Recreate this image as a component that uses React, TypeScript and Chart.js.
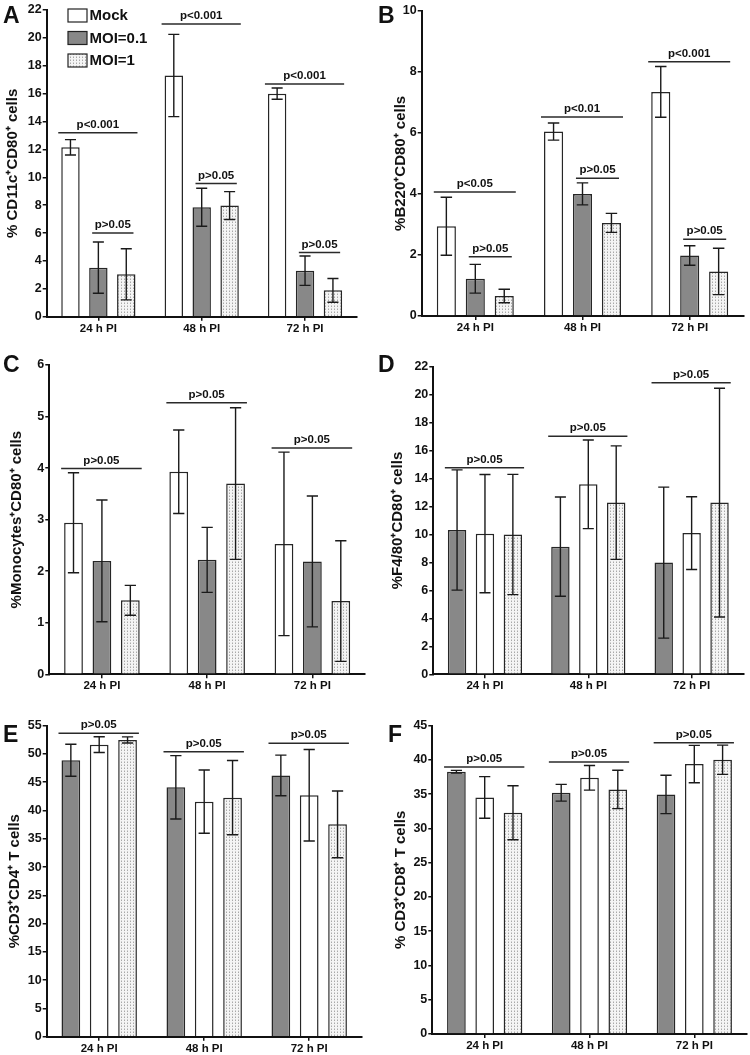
import React, { useRef, useEffect } from 'react';
import { Chart, registerables, type ChartConfiguration, type Plugin } from 'chart.js';

Chart.register(...registerables);

const FONT = "'Liberation Sans', Arial, Helvetica, sans-serif";
const INK = '#111111';

const categories = ['24 h PI', '48 h PI', '72 h PI'];
const seriesABC = ['Mock', 'MOI=0.1', 'MOI=1'];
const seriesDEF = ['MOI=0.1', 'Mock', 'MOI=1'];

// A : % CD11c+CD80+ cells
const aMock = [12.15, 17.3, 16.0];
const aMoi01 = [3.52, 7.85, 3.3];
const aMoi1 = [3.04, 7.97, 1.89];
const aMockErr = [0.55, 2.95, 0.4];
const aMoi01Err = [1.84, 1.36, 1.05];
const aMoi1Err = [1.83, 1.0, 0.85];

// B : % B220+CD80+ cells
const bMock = [2.94, 6.04, 7.34];
const bMoi01 = [1.22, 4.0, 1.98];
const bMoi1 = [0.655, 3.05, 1.46];
const bMockErr = [0.95, 0.28, 0.83];
const bMoi01Err = [0.47, 0.36, 0.32];
const bMoi1Err = [0.22, 0.31, 0.76];

// C : % Monocytes+CD80+ cells
const cMock = [2.94, 3.93, 2.53];
const cMoi01 = [2.2, 2.22, 2.19];
const cMoi1 = [1.435, 3.7, 1.42];
const cMockErr = [0.97, 0.81, 1.78];
const cMoi01Err = [1.18, 0.63, 1.27];
const cMoi1Err = [0.29, 1.47, 1.17];

// D : % F4/80+CD80+ cells (grey, white, dotted)
const dGrey = [10.32, 9.13, 7.99];
const dWhite = [10.06, 13.59, 10.1];
const dDots = [10.0, 12.28, 12.28];
const dGreyErr = [4.3, 3.55, 5.4];
const dWhiteErr = [4.23, 3.17, 2.6];
const dDotsErr = [4.3, 4.06, 8.18];

// E : % CD3+CD4+ T cells
const eGrey = [48.88, 44.1, 46.2];
const eWhite = [51.65, 41.57, 42.7];
const eDots = [52.48, 42.28, 37.55];
const eGreyErr = [2.83, 5.6, 3.6];
const eWhiteErr = [1.4, 5.6, 8.1];
const eDotsErr = [0.55, 6.56, 5.9];

// F : % CD3+CD8+ T cells
const fGrey = [38.28, 35.21, 34.97];
const fWhite = [34.53, 37.4, 39.4];
const fDots = [32.3, 35.7, 40.03];
const fGreyErr = [0.2, 1.22, 2.8];
const fWhiteErr = [3.04, 1.8, 2.73];
const fDotsErr = [3.94, 2.8, 2.14];

type Sig = { cat: number; from: number; to: number; y: number; text: string };

// significance brackets : category, first/last bar, level, label
const aSigs: Sig[] = [
  { cat: 0, from: 0, to: 2, y: 13.2, text: 'p<0.001' },
  { cat: 0, from: 1, to: 2, y: 6.0, text: 'p>0.05' },
  { cat: 1, from: 0, to: 2, y: 21.0, text: 'p<0.001' },
  { cat: 1, from: 1, to: 2, y: 9.55, text: 'p>0.05' },
  { cat: 2, from: 0, to: 2, y: 16.7, text: 'p<0.001' },
  { cat: 2, from: 1, to: 2, y: 4.6, text: 'p>0.05' },
];
const bSigs: Sig[] = [
  { cat: 0, from: 0, to: 2, y: 4.06, text: 'p<0.05' },
  { cat: 0, from: 1, to: 2, y: 1.94, text: 'p>0.05' },
  { cat: 1, from: 0, to: 2, y: 6.52, text: 'p<0.01' },
  { cat: 1, from: 1, to: 2, y: 4.51, text: 'p>0.05' },
  { cat: 2, from: 0, to: 2, y: 8.33, text: 'p<0.001' },
  { cat: 2, from: 1, to: 2, y: 2.51, text: 'p>0.05' },
];
const cSigs: Sig[] = [
  { cat: 0, from: 0, to: 2, y: 3.99, text: 'p>0.05' },
  { cat: 1, from: 0, to: 2, y: 5.27, text: 'p>0.05' },
  { cat: 2, from: 0, to: 2, y: 4.39, text: 'p>0.05' },
];
const dSigs: Sig[] = [
  { cat: 0, from: 0, to: 2, y: 14.78, text: 'p>0.05' },
  { cat: 1, from: 0, to: 2, y: 17.02, text: 'p>0.05' },
  { cat: 2, from: 0, to: 2, y: 20.86, text: 'p>0.05' },
];
const eSigs: Sig[] = [
  { cat: 0, from: 0, to: 2, y: 53.66, text: 'p>0.05' },
  { cat: 1, from: 0, to: 2, y: 50.4, text: 'p>0.05' },
  { cat: 2, from: 0, to: 2, y: 51.9, text: 'p>0.05' },
];
const fSigs: Sig[] = [
  { cat: 0, from: 0, to: 2, y: 38.96, text: 'p>0.05' },
  { cat: 1, from: 0, to: 2, y: 39.7, text: 'p>0.05' },
  { cat: 2, from: 0, to: 2, y: 42.5, text: 'p>0.05' },
];

type Fill = 'white' | 'grey' | 'dots';

interface PanelSpec {
  letter: string;
  left: number;
  top: number;
  height: number;
  yWidth: number;
  padTop: number;
  padRight: number;
  xHeight: number;
  titlePad: number;
  yMax: number;
  yStep: number;
  yTitle: string;
  series: string[];
  fills: Fill[];
  values: number[][];
  errors: number[][];
  sigs: Sig[];
  legend?: boolean;
}

const panels: PanelSpec[] = [
  {
    letter: 'A', left: 0, top: 0, height: 345, yWidth: 46.7, padTop: 10, padRight: 18.3, xHeight: 28.3, titlePad: 4,
    yMax: 22, yStep: 2, yTitle: '% CD11c\u207ACD80\u207A cells', series: seriesABC, fills: ['white', 'grey', 'dots'],
    values: [aMock, aMoi01, aMoi1], errors: [aMockErr, aMoi01Err, aMoi1Err], sigs: aSigs, legend: true,
  },
  {
    letter: 'B', left: 375, top: 0, height: 345, yWidth: 46.7, padTop: 10.7, padRight: 6.7, xHeight: 29, titlePad: 17,
    yMax: 10, yStep: 2, yTitle: '%B220\u207ACD80\u207A cells', series: seriesABC, fills: ['white', 'grey', 'dots'],
    values: [bMock, bMoi01, bMoi1], errors: [bMockErr, bMoi01Err, bMoi1Err], sigs: bSigs,
  },
  {
    letter: 'C', left: 0, top: 340, height: 360, yWidth: 49.3, padTop: 25, padRight: 10, xHeight: 25.7, titlePad: 8,
    yMax: 6, yStep: 1, yTitle: '%Monocytes\u207ACD80\u207A cells', series: seriesABC, fills: ['white', 'grey', 'dots'],
    values: [cMock, cMoi01, cMoi1], errors: [cMockErr, cMoi01Err, cMoi1Err], sigs: cSigs,
  },
  {
    letter: 'D', left: 375, top: 340, height: 360, yWidth: 58.3, padTop: 26.7, padRight: 6.7, xHeight: 25.7, titlePad: 14,
    yMax: 22, yStep: 2, yTitle: '%F4/80\u207ACD80\u207A cells', series: seriesDEF, fills: ['grey', 'white', 'dots'],
    values: [dGrey, dWhite, dDots], errors: [dGreyErr, dWhiteErr, dDotsErr], sigs: dSigs,
  },
  {
    letter: 'E', left: 0, top: 690, height: 365, yWidth: 46.7, padTop: 35.7, padRight: 13.3, xHeight: 18.3, titlePad: 6,
    yMax: 55, yStep: 5, yTitle: '%CD3\u207ACD4\u207A T cells', series: seriesDEF, fills: ['grey', 'white', 'dots'],
    values: [eGrey, eWhite, eDots], errors: [eGreyErr, eWhiteErr, eDotsErr], sigs: eSigs,
  },
  {
    letter: 'F', left: 375, top: 690, height: 365, yWidth: 57.3, padTop: 35.7, padRight: 3.3, xHeight: 21, titlePad: 17,
    yMax: 45, yStep: 5, yTitle: '% CD3\u207ACD8\u207A T cells', series: seriesDEF, fills: ['grey', 'white', 'dots'],
    values: [fGrey, fWhite, fDots], errors: [fGreyErr, fWhiteErr, fDotsErr], sigs: fSigs,
  },
];

function makeDots(): CanvasPattern | string {
  const c = document.createElement('canvas');
  c.width = 3;
  c.height = 3;
  const g = c.getContext('2d');
  if (!g) return '#e6e6e6';
  g.fillStyle = '#f4f4f4';
  g.fillRect(0, 0, 3, 3);
  g.fillStyle = '#a8a8a8';
  g.fillRect(1, 0, 1, 1);
  g.fillStyle = '#cfcfcf';
  g.fillRect(1, 2, 1, 1);
  return g.createPattern(c, 'repeat') || '#e6e6e6';
}

function fillFor(f: Fill, dots: CanvasPattern | string) {
  if (f === 'grey') return '#888888';
  if (f === 'dots') return dots;
  return '#ffffff';
}

// error bars + significance lines + (optional) legend
function overlay(spec: PanelSpec): Plugin<'bar'> {
  return {
    id: 'overlay' + spec.letter,
    afterDatasetsDraw(chart) {
      const ctx = chart.ctx;
      const y = chart.scales.y;
      ctx.save();
      ctx.strokeStyle = '#1a1a1a';
      ctx.lineWidth = 1.4;
      spec.errors.forEach((errs, di) => {
        const meta = chart.getDatasetMeta(di);
        meta.data.forEach((bar: any, i: number) => {
          const v = spec.values[di][i];
          const e = errs[i];
          const x = bar.x;
          const cap = bar.width * 0.3;
          const hi = y.getPixelForValue(v + e);
          const lo = y.getPixelForValue(v - e);
          ctx.beginPath();
          ctx.moveTo(x, hi);
          ctx.lineTo(x, lo);
          ctx.moveTo(x - cap, hi);
          ctx.lineTo(x + cap, hi);
          ctx.moveTo(x - cap, lo);
          ctx.lineTo(x + cap, lo);
          ctx.stroke();
        });
      });
      ctx.restore();
    },
    afterDraw(chart) {
      const ctx = chart.ctx;
      const y = chart.scales.y;
      ctx.save();
      ctx.strokeStyle = '#2a2a2a';
      ctx.fillStyle = INK;
      ctx.lineWidth = 1.5;
      ctx.font = `bold 11.5px ${FONT}`;
      ctx.textAlign = 'center';
      ctx.textBaseline = 'alphabetic';
      spec.sigs.forEach((s) => {
        const a: any = chart.getDatasetMeta(s.from).data[s.cat];
        const b: any = chart.getDatasetMeta(s.to).data[s.cat];
        const full = s.from === 0;
        const x0 = a.x - a.width / 2 + (full ? -3 : 3);
        const x1 = b.x + b.width / 2 + (full ? 2 : -2);
        const py = y.getPixelForValue(s.y);
        ctx.beginPath();
        ctx.moveTo(x0, py);
        ctx.lineTo(x1, py);
        ctx.stroke();
        ctx.fillText(s.text, (x0 + x1) / 2, py - 5);
      });
      if (spec.legend) {
        ctx.textAlign = 'left';
        ctx.textBaseline = 'middle';
        ctx.font = `bold 15px ${FONT}`;
        ctx.lineWidth = 1.2;
        chart.data.datasets.forEach((ds: any, i: number) => {
          const cy = 15.5 + i * 22.5;
          ctx.fillStyle = ds.backgroundColor;
          ctx.fillRect(68, cy - 6.5, 19, 13);
          ctx.strokeStyle = '#222';
          ctx.strokeRect(68, cy - 6.5, 19, 13);
          ctx.fillStyle = INK;
          ctx.fillText(ds.label, 89.5, cy + 0.5);
        });
      }
      ctx.restore();
    },
  };
}

const Panel: React.FC<{ spec: PanelSpec }> = ({ spec }) => {
  const canvasRef = useRef<HTMLCanvasElement>(null);
  const chartInstance = useRef<Chart | null>(null);

  useEffect(() => {
    if (!canvasRef.current) return;
    if (chartInstance.current) {
      chartInstance.current.destroy();
      chartInstance.current = null;
    }
    const dots = makeDots();
    const config: ChartConfiguration<'bar'> = {
      type: 'bar',
      data: {
        labels: categories,
        datasets: spec.values.map((vals, di) => ({
          label: spec.series[di],
          data: vals,
          backgroundColor: fillFor(spec.fills[di], dots) as any,
          borderColor: '#262626',
          borderWidth: 1.5,
          categoryPercentage: 0.81,
          barPercentage: 0.66,
        })),
      },
      options: {
        animation: false,
        responsive: false,
        layout: { padding: { top: spec.padTop, right: spec.padRight, left: 0, bottom: 0 } },
        plugins: { legend: { display: false }, tooltip: { enabled: false } },
        scales: {
          x: {
            grid: { display: true, drawOnChartArea: false, offset: false, tickLength: 4, color: INK, lineWidth: 1.5 },
            border: { color: INK, width: 2 },
            ticks: { color: INK, padding: 1, maxRotation: 0, font: { family: FONT, size: 11.5, weight: 'bold' } },
            afterFit: (s: any) => { s.height = spec.xHeight; },
          },
          y: {
            min: 0,
            max: spec.yMax,
            grid: { display: true, drawOnChartArea: false, tickLength: 4, color: INK, lineWidth: 1.5 },
            border: { color: INK, width: 2 },
            ticks: { stepSize: spec.yStep, color: INK, padding: 1, font: { family: FONT, size: 12.5, weight: 'bold' } },
            title: {
              display: true,
              text: spec.yTitle,
              color: INK,
              font: { family: FONT, size: 15, weight: 'bold' },
              padding: { top: spec.titlePad, bottom: 0 },
            },
            afterFit: (s: any) => { s.width = spec.yWidth; },
          },
        },
      },
      plugins: [overlay(spec)],
    };
    try {
      chartInstance.current = new Chart(canvasRef.current, config);
    } catch (error) {
      console.error('chart error:', error);
    }
    return () => {
      if (chartInstance.current) {
        chartInstance.current.destroy();
        chartInstance.current = null;
      }
    };
  }, [spec]);

  return (
    <canvas
      ref={canvasRef}
      width={375}
      height={spec.height}
      style={{ position: 'absolute', left: spec.left, top: spec.top, width: 375, height: spec.height }}
    />
  );
};

export default function App() {
  useEffect(() => {
    document.body.style.margin = '0';
  }, []);

  return (
    <div style={{ position: 'relative', width: 750, height: 1055, background: '#fff', overflow: 'hidden', fontFamily: FONT }}>
      {panels.map((p) => (
        <Panel key={p.letter} spec={p} />
      ))}
      {panels.map((p) => (
        <div
          key={'l' + p.letter}
          style={{
            position: 'absolute',
            left: p.left + (p.letter === 'F' ? 13 : 3),
            top: p.top + (p.top === 690 ? 33 : p.top === 340 ? 13 : 4),
            fontSize: 23,
            fontWeight: 'bold',
            lineHeight: 1,
            color: INK,
          }}
        >
          {p.letter}
        </div>
      ))}
    </div>
  );
}
